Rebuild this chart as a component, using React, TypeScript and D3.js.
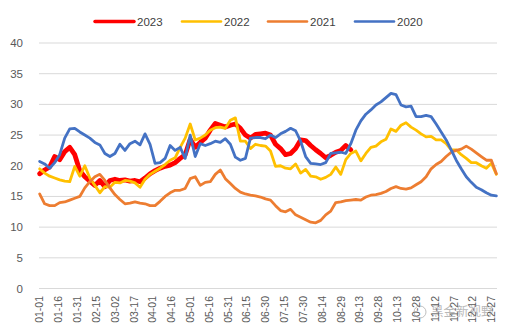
import React from "react";
import * as d3 from "d3";

const W = 506;
const H = 335;

const tickLabels = ["01-01","01-16","01-31","02-15","03-02","03-17","04-01","04-16","05-01","05-16","05-31","06-15","06-30","07-15","07-30","08-14","08-29","09-13","09-28","10-13","10-28","11-12","11-27","12-12","12-27"];
const yTicks = [0, 5, 10, 15, 20, 25, 30, 35, 40];

// values sampled every 4 days starting 01-01
const sampleStep = 4;

const v2023 = [18.7,19.3,19.8,21.5,21.0,22.3,23.0,21.8,19.2,18.2,17.5,16.8,17.6,16.6,17.6,17.8,17.6,17.7,17.5,17.6,17.4,18.0,18.7,19.2,19.6,19.9,20.1,20.5,21.2,21.8,24.3,23.0,23.8,24.5,25.8,26.9,26.6,26.3,26.6,26.8,26.1,25.0,24.5,25.1,25.2,25.3,25.0,23.5,22.8,21.8,22.0,22.8,24.2,24.1,23.3,22.6,22.0,21.3,21.7,22.2,22.5,23.3,22.6];

const v2022 = [19.5,18.8,18.3,18.0,17.7,17.5,17.4,19.9,18.3,20.0,18.0,16.8,15.6,16.6,16.5,17.3,17.2,17.6,17.5,17.2,16.5,17.8,18.6,19.1,19.6,20.2,20.9,21.3,23.0,24.5,26.8,24.2,24.5,25.0,25.8,26.2,26.3,26.1,27.4,27.8,24.0,24.0,22.8,23.5,23.3,23.2,22.4,19.9,20.0,19.6,19.5,20.3,18.8,19.4,18.3,18.2,17.8,18.1,18.6,19.8,18.6,21.0,22.0,22.4,20.8,22.0,23.0,23.2,23.9,24.3,26.0,25.6,26.6,27.0,26.3,25.8,25.2,24.7,24.8,24.2,24.2,23.6,22.6,22.6,21.8,21.2,20.5,20.5,20.0,19.6,20.4,18.6];

const v2021 = [15.4,13.8,13.5,13.5,14.0,14.1,14.4,14.7,15.0,16.4,17.4,18.2,18.6,17.6,16.4,15.3,14.5,13.8,13.9,14.1,13.9,13.8,13.5,13.5,14.2,15.0,15.6,16.0,16.0,16.3,17.9,18.2,16.8,17.3,17.4,18.6,19.3,17.9,17.1,16.3,15.7,15.4,15.2,15.1,14.9,14.6,14.4,13.5,12.7,12.5,12.9,12.0,11.6,11.2,10.8,10.7,11.1,12.0,12.6,14.0,14.1,14.3,14.4,14.5,14.4,14.9,15.2,15.3,15.5,15.8,16.3,16.6,16.3,16.2,16.4,16.9,17.4,18.2,19.5,20.2,20.7,21.5,22.2,22.5,22.7,23.2,22.7,22.1,21.5,20.9,20.9,18.7];

const v2020 = [20.7,20.3,19.6,20.5,21.8,24.5,26.0,26.1,25.5,25.0,24.5,23.8,23.4,22.0,21.5,22.0,23.5,22.5,23.6,24.0,23.4,25.2,23.5,20.4,20.5,21.2,23.3,22.5,23.0,21.2,25.0,21.5,23.6,23.3,23.6,24.0,23.8,24.4,23.5,21.4,20.9,21.2,24.5,24.6,24.6,24.4,25.0,24.6,25.2,25.6,26.1,25.7,24.0,21.5,20.4,20.3,20.2,20.5,22.0,22.1,22.2,22.0,23.6,25.8,27.3,28.4,29.1,29.9,30.4,31.1,31.8,31.6,29.9,29.6,29.7,28.0,28.0,28.2,28.0,26.8,25.5,24.2,22.6,20.9,19.5,18.2,17.3,16.5,16.1,15.6,15.2,15.1];

const seriesNames = ["2023", "2022", "2021", "2020"];
const seriesColors = ["#FF0000", "#FFC000", "#ED7D31", "#4472C4"];
const seriesWidths = [4.8, 2.8, 2.8, 2.8];
const seriesValues = [v2023, v2022, v2021, v2020];

export default function App() {
  const x = d3.scaleLinear().domain([0, 365]).range([39, 497]);
  const y = d3.scaleLinear().domain([0, 40]).range([288.5, 43]);
  const line = d3
    .line<number>()
    .x((_, i) => x(i * sampleStep + 0.5))
    .y((v) => y(v))
    .curve(d3.curveLinear);

  const font = "Arial, 'Liberation Sans', sans-serif";
  const legendX = [95, 182, 268, 355];

  return (
    <svg width={W} height={H} style={{ position: "absolute", left: 0, top: 0 }} fontFamily={font}>
      <rect x={0} y={0} width={W} height={H} fill="#fff" />
      {yTicks.map((t) => (
        <g key={t}>
          <line x1={39} x2={497} y1={y(t)} y2={y(t)} stroke="#D9D9D9" strokeWidth={1} />
          <text x={23} y={y(t)} dy="0.35em" textAnchor="end" fontSize={11.5} fill="#595959">
            {t}
          </text>
        </g>
      ))}
      {tickLabels.map((lab, i) => {
        const px = x(i * 15 + 0.5);
        return (
          <text
            key={lab}
            transform={`translate(${px + 3.8},${296}) rotate(-90)`}
            textAnchor="end"
            fontSize={10.5}
            fill="#595959"
          >
            {lab}
          </text>
        );
      })}
      {seriesValues.map((vals, k) => (
        <path
          key={seriesNames[k]}
          d={line(vals) || ""}
          fill="none"
          stroke={seriesColors[k]}
          strokeWidth={seriesWidths[k]}
          strokeLinejoin="round"
          strokeLinecap="round"
        />
      ))}
      {seriesNames.map((n, k) => (
        <g key={n}>
          <line
            x1={legendX[k]}
            x2={legendX[k] + 39}
            y1={21.5}
            y2={21.5}
            stroke={seriesColors[k]}
            strokeWidth={k === 0 ? 3.5 : 2.6}
            strokeLinecap="round"
          />
          <text x={legendX[k] + 42} y={21.5} dy="0.35em" fontSize={11.5} fill="#404040">
            {n}
          </text>
        </g>
      ))}
      <g opacity={0.55}>
        <circle cx={420} cy={312} r={6} fill="none" stroke="#8c8c8c" strokeWidth={1} />
        <text x={431} y={312} dy="0.35em" fontSize={12.5} fill="#7f7f7f" fontFamily="'Noto Sans CJK SC', sans-serif">
          黑金新视野
        </text>
      </g>
    </svg>
  );
}
